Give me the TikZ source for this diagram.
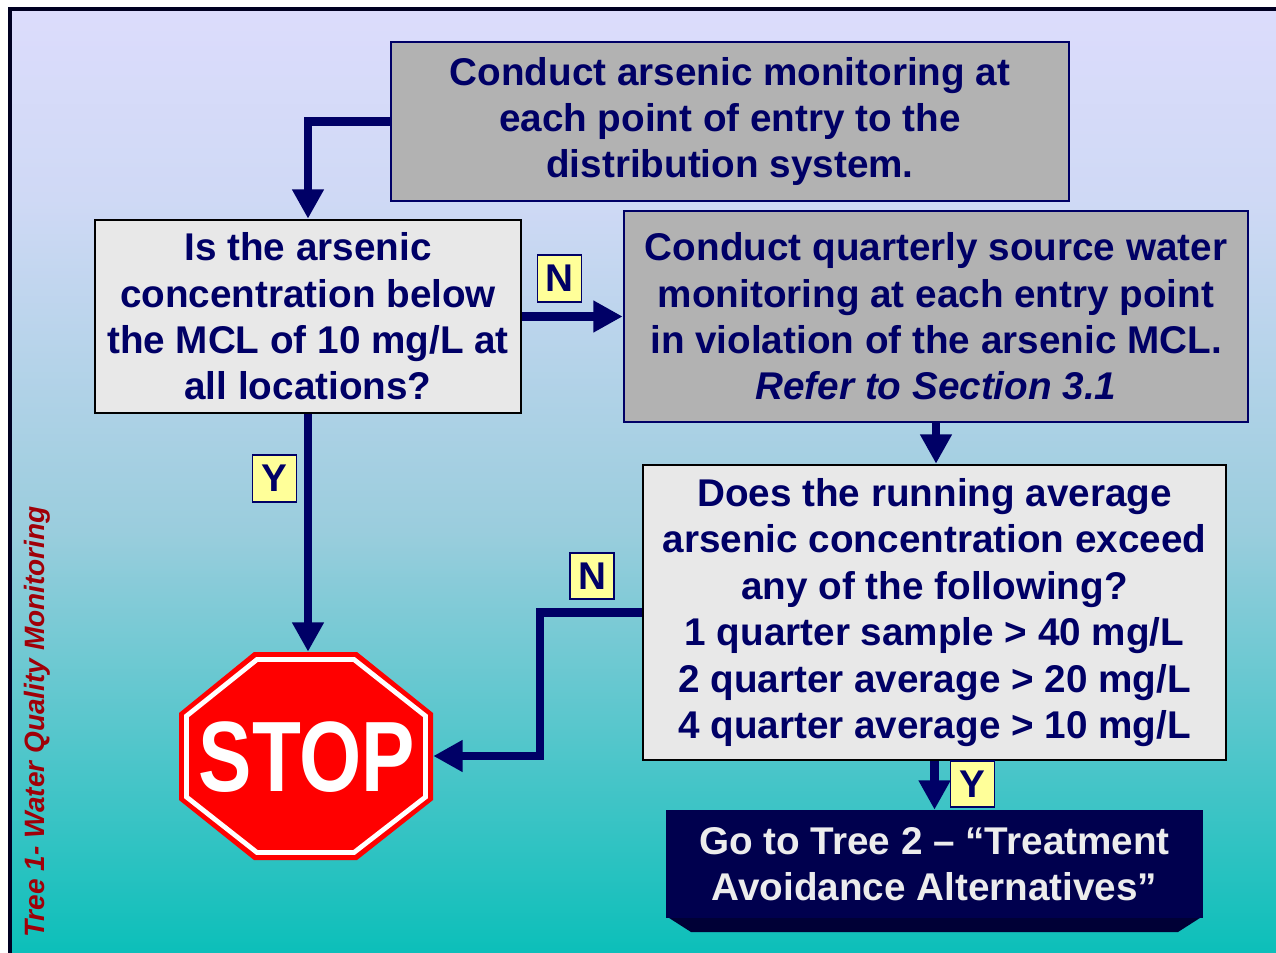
\documentclass[tikz,border=0pt]{standalone}
\usepackage{fontspec}
\setmainfont{Liberation Sans}
\usetikzlibrary{arrows.meta}
\definecolor{navy}{HTML}{000066}
\definecolor{framec}{HTML}{000022}
\definecolor{boxgray}{HTML}{B2B2B2}
\definecolor{boxlight}{HTML}{E8E8E8}
\definecolor{labfill}{HTML}{FFFF99}
\definecolor{gonavy}{HTML}{00004E}
\definecolor{gobevel}{HTML}{000036}
\definecolor{gotext}{HTML}{ECECEC}
\definecolor{titlered}{HTML}{A00008}
\definecolor{stopred}{HTML}{FF0000}
\definecolor{bgtop}{HTML}{DCDCFC}
\definecolor{bglav}{HTML}{CFD9F5}
\definecolor{bgmid}{HTML}{9ACDDD}
\definecolor{bgbot}{HTML}{0ABFB9}
% TikZ maps the path's box onto 25bp..75bp of the shading
\pgfdeclareverticalshading{bgshade}{100bp}{color(0bp)=(bgbot); color(25bp)=(bgbot); color(47.5bp)=(bgmid); color(65bp)=(bglav); color(75bp)=(bgtop); color(100bp)=(bgtop)}
\tikzset{
  txt/.style={align=center, inner sep=0pt, font=\fontsize{29}{34.8}\selectfont\bfseries},
  graybox/.style={txt, draw=navy, fill=boxgray, line width=2pt, text=navy},
  lightbox/.style={txt, draw=black, fill=boxlight, line width=1.9pt, text=navy},
  gobox/.style={txt, fill=gonavy, text=gotext},
  lab/.style={draw=navy, fill=labfill, line width=1.4pt, minimum width=33pt, minimum height=35pt, inner sep=0pt, text=navy, font=\fontsize{29}{34.8}\selectfont\bfseries},
  arr/.style={draw=navy, line width=6.5pt, -{Triangle[width=22.5pt,length=22pt]}},
}
\begin{document}
\begin{tikzpicture}[x=0.75pt,y=-0.75pt]
\useasboundingbox (0,0) rectangle (1276,952);
\fill[white] (0,0) rectangle (1276,952);
\begin{scope}
\clip (0,0) rectangle (1276,952);
\shade[shading=bgshade] (10,9) rectangle (1290,958);
\draw[framec, line width=2.4pt] (10,975) -- (10,9) -- (1295,9);
\end{scope}

% title
\node[rotate=90, text=titlered, inner sep=0pt, font=\fontsize{21}{25}\selectfont\bfseries\itshape] (title) at (37,722) {Tree 1- Water Quality Monitoring};

% boxes
\node[graybox, minimum width=508.5pt, minimum height=119.25pt] (b1) at (730,121.5)
  {Conduct arsenic monitoring at\\each point of entry to the\\distribution system.};
\node[lightbox, minimum width=319.5pt, minimum height=144.75pt] (b2) at (308,316.5)
  {Is the arsenic\\concentration below\\the MCL of 10 mg/L at\\all locations?};
\node[graybox, minimum width=468pt, minimum height=158.25pt] (b3) at (936,316.5)
  {Conduct quarterly source water\\monitoring at each entry point\\in violation of the arsenic MCL.\\{\itshape Refer to Section 3.1}};
\node[lightbox, minimum width=437.25pt, minimum height=221.25pt] (b4) at (934.5,612.5)
  {Does the running average\\arsenic concentration exceed\\any of the following?\\1 quarter sample > 40 mg/L\\2 quarter average > 20 mg/L\\4 quarter average > 10 mg/L};

% go box with bevel
\fill[gobevel] (666,916) -- (1203,916) -- (1178,932) -- (691,932) -- cycle;
\node[gobox, minimum width=402.75pt, minimum height=81pt] (b5) at (934.5,864)
  {Go to Tree 2 -- \textquotedblleft Treatment\\Avoidance Alternatives\textquotedblright};

% stop sign
\node[minimum width=190.5pt, minimum height=156pt, inner sep=0pt] (stop) at (306,756) {};
\begin{scope}[shift={(stop.center)}]
\fill[stopred] (-52,-104) -- (51,-104) -- (127,-43) -- (127,44) -- (51,104) -- (-52,104) -- (-127,44) -- (-127,-43) -- cycle;
\draw[white, line width=3.6pt, line join=miter] (-49,-96.5) -- (48,-96.5) -- (119.5,-40) -- (119.5,41) -- (48,96.5) -- (-49,96.5) -- (-119.5,41) -- (-119.5,-40) -- cycle;
\end{scope}
\node[text=white, inner sep=0pt, font=\fontsize{75}{75}\selectfont\bfseries] (stoptext) at (307,757) {\scalebox{0.8}[1]{STOP}};

% connectors
\draw[arr] (b1.west) -| (b2.north);
\draw[arr] (b2.east) -- (b3.west);
\draw[arr] (b3.south) -- (b3.south |- b4.north);
\draw[arr] (b2.south) -- (b2.south |- stop.north);
\coordinate (knee) at (540,612.5);
\draw[arr] (b4.west) -- (knee) |- (stop.east);
\draw[arr] (b4.south) -- (b4.south |- b5.north);

% labels
\node[lab] (n1) at (559.5,278.5) {N};
\node[lab] (y1) at (274.5,478.5) {Y};
\node[lab] (n2) at (592,576) {N};
\node[lab] (y2) at (972.5,784) {Y};
\end{tikzpicture}
\end{document}
